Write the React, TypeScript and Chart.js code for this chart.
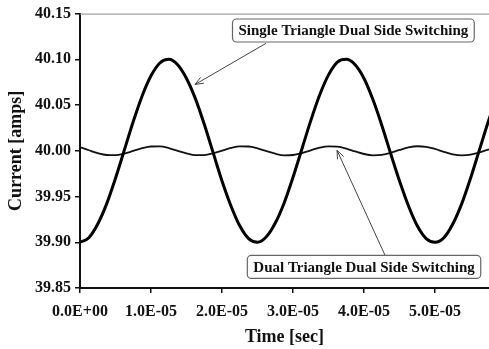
import React, { useEffect, useRef } from "react";
import { Chart, registerables } from "chart.js";

Chart.register(...registerables);

// time in seconds
const timeValues: number[] = [
  0, 0.125e-5, 0.25e-5, 0.375e-5, 0.5e-5, 0.625e-5, 0.75e-5, 0.875e-5,
  1.0e-5, 1.125e-5, 1.25e-5, 1.375e-5, 1.5e-5, 1.625e-5, 1.75e-5, 1.875e-5,
  2.0e-5, 2.125e-5, 2.25e-5, 2.375e-5, 2.5e-5, 2.625e-5, 2.75e-5, 2.875e-5,
  3.0e-5, 3.125e-5, 3.25e-5, 3.375e-5, 3.5e-5, 3.625e-5, 3.75e-5, 3.875e-5,
  4.0e-5, 4.125e-5, 4.25e-5, 4.375e-5, 4.5e-5, 4.625e-5, 4.75e-5, 4.875e-5,
  5.0e-5, 5.125e-5, 5.25e-5, 5.375e-5, 5.5e-5, 5.625e-5, 5.75e-5, 5.875e-5,
];

// Single Triangle Dual Side Switching (thick)
const singleTriangle: number[] = [
  39.900, 39.905, 39.920, 39.942, 39.970, 40.001, 40.032, 40.060,
  40.082, 40.096, 40.100, 40.094, 40.079, 40.057, 40.029, 39.998,
  39.967, 39.940, 39.918, 39.904, 39.900, 39.906, 39.921, 39.943,
  39.971, 40.002, 40.033, 40.061, 40.083, 40.097, 40.100, 40.094,
  40.079, 40.056, 40.028, 39.997, 39.967, 39.940, 39.918, 39.904,
  39.900, 39.905, 39.920, 39.942, 39.970, 40.001, 40.032, 40.060,
];

// Dual Triangle Dual Side Switching (thin)
const dualTriangle: number[] = [
  40.0040, 40.0006, 39.9974, 39.9954, 39.9952, 39.9969, 39.9998, 40.0028,
  40.0047, 40.0048, 40.0030, 40.0000, 39.9971, 39.9952, 39.9953, 39.9972,
  40.0002, 40.0031, 40.0048, 40.0047, 40.0027, 39.9997, 39.9968, 39.9951,
  39.9954, 39.9975, 40.0005, 40.0034, 40.0049, 40.0045, 40.0023, 39.9993,
  39.9965, 39.9951, 39.9956, 39.9978, 40.0009, 40.0037, 40.0050, 40.0043,
  40.0020, 39.9989, 39.9962, 39.9950, 39.9958, 39.9982, 40.0013, 40.0039,
];

const xTickValues: number[] = [0, 1e-5, 2e-5, 3e-5, 4e-5, 5e-5];
const xMin = 0;
const xMax = 5.76e-5;
const yMin = 39.85;
const yMax = 40.15;
const yStep = 0.05;

const xTitle = "Time [sec]";
const yTitle = "Current [amps]";

// annotation labels, anchored in data units
const annotations = [
  {
    text: "Single Triangle Dual Side Switching",
    boxX: 3.85e-5, boxY: 40.1315,
    fromX: 2.62e-5, fromY: 40.1175,
    toX: 1.62e-5, toY: 40.0725,
  },
  {
    text: "Dual Triangle Dual Side Switching",
    boxX: 4.0e-5, boxY: 39.873,
    fromX: 4.30e-5, fromY: 39.885,
    toX: 3.62e-5, toY: 40.0005,
  },
];

const SERIF = '"Liberation Serif", "Times New Roman", serif';

function fmtExp(v: number): string {
  const s = v.toExponential(1);
  const [m, e] = s.split("e");
  const sign = e[0] === "-" ? "-" : "+";
  const digits = e.replace(/[+-]/, "").padStart(2, "0");
  return `${m}E${sign}${digits}`;
}

const annotationPlugin = {
  id: "annotationsAndFrame",
  afterDraw(chart: any) {
    const ctx = chart.ctx as CanvasRenderingContext2D;
    const xs = chart.scales.x;
    const ys = chart.scales.y;
    const area = chart.chartArea;
    ctx.save();
    // top frame line
    ctx.strokeStyle = "#8a8a8a";
    ctx.lineWidth = 1;
    ctx.beginPath();
    ctx.moveTo(area.left, area.top + 0.5);
    ctx.lineTo(chart.width, area.top + 0.5);
    ctx.stroke();

    ctx.font = `bold 15px ${SERIF}`;
    ctx.textAlign = "center";
    ctx.textBaseline = "middle";
    for (const a of annotations) {
      // arrow
      const fx = xs.getPixelForValue(a.fromX);
      const fy = ys.getPixelForValue(a.fromY);
      const tx = xs.getPixelForValue(a.toX);
      const ty = ys.getPixelForValue(a.toY);
      ctx.strokeStyle = "#444";
      ctx.lineWidth = 1;
      ctx.beginPath();
      ctx.moveTo(fx, fy);
      ctx.lineTo(tx, ty);
      const ang = Math.atan2(ty - fy, tx - fx);
      const hl = 9;
      const spread = 0.38;
      ctx.moveTo(tx, ty);
      ctx.lineTo(tx - hl * Math.cos(ang - spread), ty - hl * Math.sin(ang - spread));
      ctx.moveTo(tx, ty);
      ctx.lineTo(tx - hl * Math.cos(ang + spread), ty - hl * Math.sin(ang + spread));
      ctx.stroke();

      // box
      const cx = xs.getPixelForValue(a.boxX);
      const cy = ys.getPixelForValue(a.boxY);
      const w = ctx.measureText(a.text).width + 12;
      const h = 23;
      ctx.fillStyle = "#fff";
      ctx.strokeStyle = "#666";
      ctx.lineWidth = 1.2;
      ctx.beginPath();
      (ctx as any).roundRect(cx - w / 2, cy - h / 2, w, h, 4);
      ctx.fill();
      ctx.stroke();
      ctx.fillStyle = "#111";
      ctx.fillText(a.text, cx, cy + 1);
    }
    ctx.restore();
  },
};

export default function App() {
  const canvasRef = useRef<HTMLCanvasElement | null>(null);

  useEffect(() => {
    document.body.style.margin = "0";
    const canvas = canvasRef.current;
    if (!canvas) return;
    const chart = new Chart(canvas, {
      type: "line",
      data: {
        datasets: [
          {
            label: "Single Triangle Dual Side Switching",
            data: timeValues.map((t, i) => ({ x: t, y: singleTriangle[i] })),
            borderColor: "#000",
            borderWidth: 3,
            pointRadius: 0,
            cubicInterpolationMode: "monotone",
            fill: false,
          },
          {
            label: "Dual Triangle Dual Side Switching",
            data: timeValues.map((t, i) => ({ x: t, y: dualTriangle[i] })),
            borderColor: "#111",
            borderWidth: 1.8,
            pointRadius: 0,
            cubicInterpolationMode: "monotone",
            fill: false,
          },
        ],
      },
      options: {
        animation: false,
        responsive: false,
        devicePixelRatio: 1,
        layout: { padding: { top: 13, right: 0, left: 0, bottom: 0 } },
        plugins: {
          legend: { display: false },
          tooltip: { enabled: false },
        },
        scales: {
          x: {
            type: "linear",
            min: xMin,
            max: xMax,
            afterBuildTicks: (scale: any) => {
              scale.ticks = xTickValues.map((v) => ({ value: v }));
            },
            afterFit: (scale: any) => {
              scale.height = 61;
            },
            ticks: {
              autoSkip: false,
              maxRotation: 0,
              padding: 9,
              color: "#111",
              font: { family: SERIF, size: 16, weight: "bold" },
              callback: (v: any) => fmtExp(Number(v)),
            },
            grid: {
              drawOnChartArea: false,
              drawTicks: true,
              tickLength: 5,
              color: "#111",
              lineWidth: 1.5,
            },
            border: { display: true, color: "#111", width: 2 },
            title: {
              display: true,
              text: xTitle,
              color: "#111",
              font: { family: SERIF, size: 18, weight: "bold" },
              padding: { top: 0, bottom: 1 },
            },
          },
          y: {
            type: "linear",
            min: yMin,
            max: yMax,
            afterFit: (scale: any) => {
              scale.width = 80;
            },
            ticks: {
              stepSize: yStep,
              padding: 4,
              color: "#111",
              font: { family: SERIF, size: 16, weight: "bold" },
              callback: (v: any) => Number(v).toFixed(2),
            },
            grid: {
              drawOnChartArea: false,
              drawTicks: true,
              tickLength: 5,
              color: "#111",
              lineWidth: 1.5,
            },
            border: { display: true, color: "#111", width: 2 },
            title: {
              display: true,
              text: yTitle,
              color: "#111",
              font: { family: SERIF, size: 18, weight: "bold" },
              padding: { top: 6, bottom: 0 },
            },
          },
        },
      },
      plugins: [annotationPlugin],
    } as any);
    return () => chart.destroy();
  }, []);

  return (
    <div style={{ width: 489, height: 349 }}>
      <canvas ref={canvasRef} width={489} height={349} style={{ display: "block" }} />
    </div>
  );
}
